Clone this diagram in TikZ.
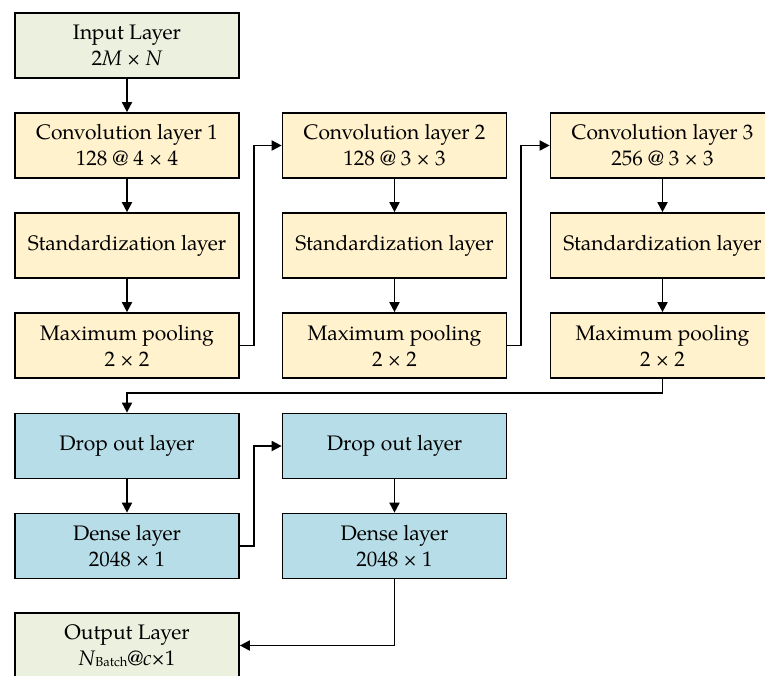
\documentclass[tikz,border=0pt]{standalone}
\usepackage{fontspec}
\setmainfont{TeX Gyre Pagella}
\usetikzlibrary{arrows.meta}
\definecolor{gfill}{HTML}{EBF1DE}
\definecolor{yfill}{HTML}{FFF2CC}
\definecolor{bfill}{HTML}{B7DEE8}
\begin{document}
\begin{tikzpicture}[x=1pt,y=-1pt,
  box/.style={draw=black, line width=1.7pt, minimum width=224pt, minimum height=65pt, align=center, inner sep=0pt, font=\fontsize{21}{26}\selectfont},
  gbox/.style={box, fill=gfill},
  ybox/.style={box, fill=yfill},
  bbox/.style={box, fill=bfill},
  arr/.style={line width=1.8pt, -{Triangle[length=10pt,width=10pt]}}]
\useasboundingbox (0,0) rectangle (765,675);
% column 1
\node[gbox] (in) at (127,45.5) {Input Layer\\2\textit{M} × \textit{N}};
\node[ybox] (c1) at (127,145.5) {Convolution layer 1\\128 @ 4 × 4};
\node[ybox] (s1) at (127,245.5) {Standardization layer};
\node[ybox] (m1) at (127,345.5) {Maximum pooling\\2 × 2};
% column 2
\node[ybox] (c2) at (394.5,145.5) {Convolution layer 2\\128 @ 3 × 3};
\node[ybox] (s2) at (394.5,245.5) {Standardization layer};
\node[ybox] (m2) at (394.5,345.5) {Maximum pooling\\2 × 2};
% column 3
\node[ybox] (c3) at (662.5,145.5) {Convolution layer 3\\256 @ 3 × 3};
\node[ybox] (s3) at (662.5,245.5) {Standardization layer};
\node[ybox] (m3) at (662.5,345.5) {Maximum pooling\\2 × 2};
% dense part
\node[bbox] (d1) at (127,446) {Drop out layer};
\node[bbox] (n1) at (127,546) {Dense layer\\2048 × 1};
\node[bbox] (d2) at (394.5,446) {Drop out layer};
\node[bbox] (n2) at (394.5,546) {Dense layer\\2048 × 1};
\node[gbox] (out) at (127,645.5) {Output Layer\\\textit{N}\raisebox{-1pt}{\fontsize{13}{13}\selectfont Batch}@\textit{c}×1};
% connectors
\draw[arr] (in) -- (c1);
\draw[arr] (c1) -- (s1);
\draw[arr] (s1) -- (m1);
\draw[arr] (c2) -- (s2);
\draw[arr] (s2) -- (m2);
\draw[arr] (c3) -- (s3);
\draw[arr] (s3) -- (m3);
\draw[arr] (m1.east) -- ++(14,0) |- (c2.west);
\draw[arr] (m2.east) -- ++(14,0) |- (c3.west);
\draw[arr] (m3.south) -- ++(0,14) -| (d1.north);
\draw[arr] (d1) -- (n1);
\draw[arr] (n1.east) -- ++(14,0) |- (d2.west);
\draw[arr] (d2) -- (n2);
\draw[arr] (n2.south) |- (out.east);
\end{tikzpicture}
\end{document}
